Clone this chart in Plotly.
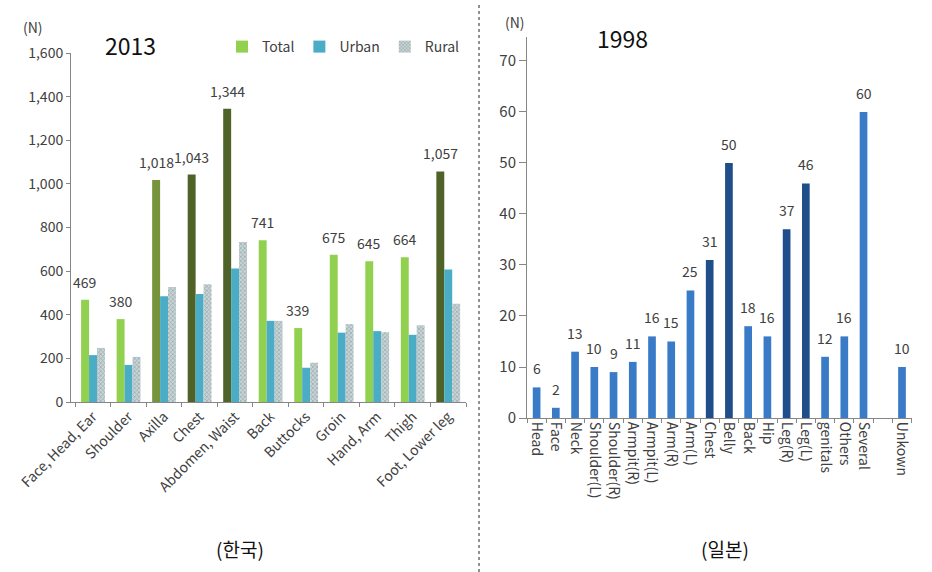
import plotly.graph_objects as go

# ---- data: 2013 (Korea) ----
kr_parts = ["Face, Head, Ear", "Shoulder", "Axilla", "Chest", "Abdomen, Waist",
            "Back", "Buttocks", "Groin", "Hand, Arm", "Thigh", "Foot, Lower leg"]
kr_total = [469, 380, 1018, 1043, 1344, 741, 339, 675, 645, 664, 1057]
kr_urban = [215, 170, 485, 495, 612, 372, 157, 318, 325, 308, 607]
kr_rural = [248, 207, 527, 540, 733, 372, 180, 357, 320, 352, 450]

# ---- data: 1998 (Japan) ----
jp_parts = ["Head", "Face", "Neck", "Shoulder(L)", "Shoulder(R)", "Armpit(R)", "Armpit(L)",
            "Arm(R)", "Arm(L)", "Chest", "Belly", "Back", "Hip", "Leg(R)", "Leg(L)",
            "genitals", "Others", "Several", " ", "Unkown"]
jp_values = [6, 2, 13, 10, 9, 11, 16, 15, 25, 31, 50, 18, 16, 37, 46, 12, 16, 60, None, 10]

W, H = 932, 572
FONT = "Noto Sans CJK KR"
TXT = "#404040"
AX = "#868686"

def px(x):
    return x / W

def py(y):
    return 1 - y / H

# plot-area geometry (pixels)
L_X0, L_X1, L_Y0, L_Y1 = 71, 466, 402, 53
R_X0, R_X1, R_Y0, R_Y1 = 527, 912, 418, 37
BARGAP = 0.33

# colours (style, not data)
total_colors = []
for name in kr_parts:
    if name == "Axilla":
        total_colors.append("#77933c")
    elif name in ("Chest", "Abdomen, Waist", "Foot, Lower leg"):
        total_colors.append("#4f6228")
    else:
        total_colors.append("#92d050")

jp_dark = {"Chest", "Belly", "Leg(R)", "Leg(L)"}
jp_colors = ["#1f4e8a" if p in jp_dark else "#3a7bc8" for p in jp_parts]

fig = go.Figure()

fig.add_trace(go.Bar(
    x=kr_parts, y=kr_total, name="Total",
    marker=dict(color=total_colors, line=dict(width=0)),
    xaxis="x", yaxis="y",
))
fig.add_trace(go.Bar(
    x=kr_parts, y=kr_urban, name="Urban",
    marker=dict(color="#4bacc6", line=dict(width=0)),
    xaxis="x", yaxis="y",
))
fig.add_trace(go.Bar(
    x=kr_parts, y=kr_rural, name="Rural",
    marker=dict(color="#b9c6c8", line=dict(width=0),
                pattern=dict(shape="x", size=3, solidity=0.45, fgcolor="#6f8a8e", bgcolor="#c8d3d5")),
    xaxis="x", yaxis="y",
))

fig.add_trace(go.Bar(
    x=jp_parts, y=jp_values, name="1998", showlegend=False,
    marker=dict(color=jp_colors, line=dict(width=0)),
    xaxis="x2", yaxis="y2", width=0.4, offsetgroup="jp",
))

# value labels above bars
slot = (L_X1 - L_X0) / len(kr_parts)
total_shift = -slot * (1 - BARGAP) / 3
for name, v in zip(kr_parts, kr_total):
    fig.add_annotation(x=name, y=v, xref="x", yref="y", text=f"{v:,}", showarrow=False,
                       xshift=total_shift, yshift=18, yanchor="middle",
                       font=dict(size=14, color=TXT, family=FONT))
for name, v in zip(jp_parts, jp_values):
    if v is None:
        continue
    fig.add_annotation(x=name, y=v, xref="x2", yref="y2", text=str(v), showarrow=False,
                       yshift=19, yanchor="middle",
                       font=dict(size=14, color=TXT, family=FONT))

common_x = dict(showgrid=False, showline=True, linecolor=AX, linewidth=1, automargin=False,
                ticks="outside", tickson="boundaries", ticklen=4, tickcolor=AX,
                tickfont=dict(size=14, color=TXT, family=FONT), zeroline=False)
common_y = dict(showgrid=False, showline=True, linecolor=AX, linewidth=1, automargin=False,
                ticks="outside", tickcolor=AX, zeroline=False)

fig.update_layout(
    width=W, height=H,
    margin=dict(l=0, r=0, t=0, b=0, autoexpand=False),
    paper_bgcolor="white", plot_bgcolor="white",
    font=dict(family=FONT, color=TXT),
    barmode="group", bargap=BARGAP, bargroupgap=0.0,
    xaxis=dict(domain=[px(L_X0), px(L_X1)], anchor="y", tickangle=-45, **common_x),
    yaxis=dict(domain=[py(L_Y0), py(L_Y1)], anchor="x", range=[0, 1600], dtick=200,
               tickformat=",", ticklen=4, tickfont=dict(size=14, color=TXT, family=FONT),
               **common_y),
    xaxis2=dict(domain=[px(R_X0), px(R_X1)], anchor="y2", tickangle=90, **common_x),
    yaxis2=dict(domain=[py(R_Y0), py(R_Y1)], anchor="x2", range=[0, 74.7],
                tickvals=[0, 10, 20, 30, 40, 50, 60, 70], ticklen=7,
                tickfont=dict(size=15, color=TXT, family=FONT), **common_y),
    legend=dict(orientation="h", x=px(222), y=py(31), xanchor="left", yanchor="top",
                font=dict(size=14, color=TXT, family=FONT), itemwidth=30,
                bgcolor="rgba(0,0,0,0)", traceorder="normal", tracegroupgap=0),
    showlegend=True,
)

annos = [
    dict(x=px(130), y=py(45), text="2013", font=dict(size=23, color="#111111")),
    dict(x=px(622), y=py(38), text="1998", font=dict(size=23, color="#111111")),
    dict(x=px(33), y=py(27), text="(N)", font=dict(size=14, color=TXT)),
    dict(x=px(515), y=py(22), text="(N)", font=dict(size=14, color=TXT)),
    dict(x=px(240), y=py(548), text="(한국)", font=dict(size=19, color="#111111")),
    dict(x=px(725), y=py(548), text="(일본)", font=dict(size=19, color="#111111")),
]
for a in annos:
    fig.add_annotation(xref="paper", yref="paper", showarrow=False,
                       xanchor="center", yanchor="middle", **a)

fig.add_shape(type="line", xref="paper", yref="paper",
              x0=px(479), x1=px(479), y0=py(5), y1=py(572),
              line=dict(color="#222222", width=1, dash="dot"))

fig.write_html("out.html")
